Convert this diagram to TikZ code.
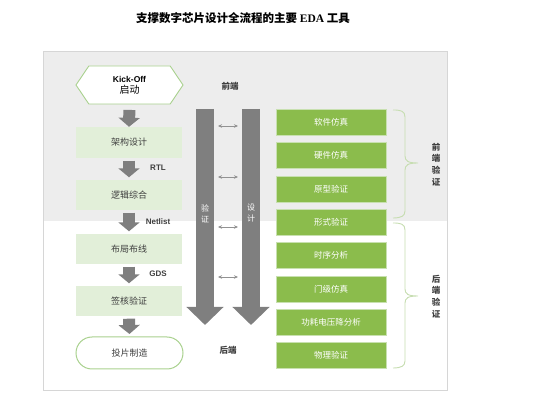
\documentclass[tikz,border=0pt]{standalone}
\usepackage{fontspec}
\setmainfont{Liberation Sans}
\newfontfamily\cjk{Noto Sans CJK SC}
\newfontfamily\titleserif{Liberation Serif}
\usetikzlibrary{shapes.symbols,arrows.meta}
\definecolor{bggray}{HTML}{EDEDED}
\definecolor{framegray}{HTML}{D6D6D6}
\definecolor{lightgreen}{HTML}{E2EFD9}
\definecolor{midgreen}{HTML}{A9D18E}
\definecolor{darkgreen}{HTML}{8BBC4C}
\definecolor{greenedge}{HTML}{C8E0B0}
\definecolor{arrowgray}{HTML}{7F7F7F}
\definecolor{txt}{HTML}{3F3F3F}
\definecolor{bracegreen}{HTML}{C6DDB0}
\tikzset{
  stagebox/.style={fill=lightgreen, draw=none, minimum width=106pt, minimum height=30pt, inner sep=0pt, font=\cjk\fontsize{9}{11}\selectfont, text=txt},
  toolbox/.style={fill=darkgreen, draw=greenedge, line width=0.6pt, minimum width=110pt, minimum height=26pt, inner sep=0pt, font=\cjk\fontsize{8.5}{10}\selectfont, text=white},
  flowarrow/.style={draw=arrowgray, line width=12pt, -{Triangle[width=21pt,length=9pt]}, shorten <=2.5pt, shorten >=2.5pt},
  bigarrow/.style={draw=arrowgray, line width=18pt, -{Triangle[width=36pt,length=18pt]}},
  linkarrow/.style={draw=arrowgray!85, line width=0.5pt, {Stealth[length=4pt,width=3.5pt]}-{Stealth[length=4pt,width=3.5pt]}},
  flowlabel/.style={font=\bfseries\fontsize{8}{9}\selectfont, text=txt},
  sidelabel/.style={font=\cjk\bfseries\fontsize{8.5}{10}\selectfont, text=txt},
  vlabel/.style={font=\cjk\bfseries\fontsize{8.5}{11.7}\selectfont, text=txt, align=center},
  brace/.style={draw=bracegreen, line width=0.9pt}
}
\begin{document}
\begin{tikzpicture}[x=1pt,y=-1pt]
\useasboundingbox (0,0) rectangle (557,419);
% title
\node (title) at (243,18) {\cjk\bfseries\fontsize{11.5}{13}\selectfont 支撑数字芯片设计全流程的主要 {\titleserif\bfseries EDA} 工具};
% background frame
\fill[bggray] (43,52) rectangle (447,221);
\draw[framegray, line width=1pt] (43,52) rectangle (447,391);

% left flow
\node[signal, signal to=east and west, signal pointer angle=112, draw=midgreen, line width=0.9pt, fill=white, minimum width=107pt, minimum height=38pt, inner sep=0pt, align=center] (kick) at (129.5,85)
  {\bfseries\fontsize{8.5}{11}\selectfont Kick-Off\\[-1pt]{\cjk\mdseries 启动}};
\node[stagebox, minimum height=31pt] (arch) at (129,142.5) {架构设计};
\node[stagebox] (logic) at (129,195) {逻辑综合};
\node[stagebox] (pnr) at (129,249) {布局布线};
\node[stagebox] (signoff) at (129,301) {签核验证};
\node[draw=midgreen, line width=1pt, fill=white, rounded corners=16pt, minimum width=107pt, minimum height=32pt, inner sep=0pt, font=\cjk\fontsize{9}{11}\selectfont, text=txt] (tape) at (129.5,353) {投片制造};

\draw[flowarrow, shorten <=5.5pt, shorten >=0pt] (kick.south) -- (arch.north);
\draw[flowarrow] (arch.south) -- (logic.north);
\draw[flowarrow] (logic.south) -- (pnr.north);
\draw[flowarrow] (pnr.south) -- (signoff.north);
\draw[flowarrow] (signoff.south) -- (tape.north);

\node[flowlabel] (rtl) at (158,168) {RTL};
\node[flowlabel] (netlist) at (158,222) {Netlist};
\node[flowlabel] (gds) at (158,274) {GDS};

% big arrows
\coordinate (vtop) at (205,109);
\coordinate (vtip) at (205,325);
\coordinate (dtop) at (251,109);
\coordinate (dtip) at (251,325);
\draw[bigarrow] (vtop) -- (vtip);
\draw[bigarrow] (dtop) -- (dtip);
\node[font=\cjk\fontsize{8}{11}\selectfont, text=white, align=center] (vlab) at (205,213.5) {验\\证};
\node[font=\cjk\fontsize{8}{11}\selectfont, text=white, align=center] (dlab) at (251,213.5) {设\\计};

% small links
\foreach \yy/\nm in {126/a,177/b,227/c,277/d}{
  \coordinate (la\nm) at (218,\yy);
  \coordinate (lb\nm) at (238,\yy);
  \draw[linkarrow] (la\nm) -- (lb\nm);
}

\node[sidelabel] (front) at (230,86) {前端};
\node[sidelabel] (back) at (228,350) {后端};

% tool boxes
\node[toolbox] (t1) at (331,122) {软件仿真};
\node[toolbox] (t2) at (331,155.5) {硬件仿真};
\node[toolbox] (t3) at (331,189) {原型验证};
\node[toolbox] (t4) at (331,222) {形式验证};
\node[toolbox] (t5) at (331,255.5) {时序分析};
\node[toolbox] (t6) at (331,289) {门级仿真};
\node[toolbox] (t7) at (331,322) {功耗电压降分析};
\node[toolbox] (t8) at (331,355.5) {物理验证};

% braces
\draw[brace] (393,110) .. controls (401,110) and (405,111) .. (405,117) -- (405,156)
  .. controls (405,161) and (408,163) .. (418,163)
  .. controls (408,163) and (405,165) .. (405,170) -- (405,211)
  .. controls (405,216) and (401,218) .. (393,218);
\draw[brace] (393,223) .. controls (401,223) and (405,224) .. (405,230) -- (405,289)
  .. controls (405,294) and (408,296) .. (418,296)
  .. controls (408,296) and (405,298) .. (405,303) -- (405,361)
  .. controls (405,366) and (401,368) .. (393,368);

\node[vlabel] (fv) at (436,164.5) {前\\端\\验\\证};
\node[vlabel] (bv) at (436,296.5) {后\\端\\验\\证};
\end{tikzpicture}
\end{document}
